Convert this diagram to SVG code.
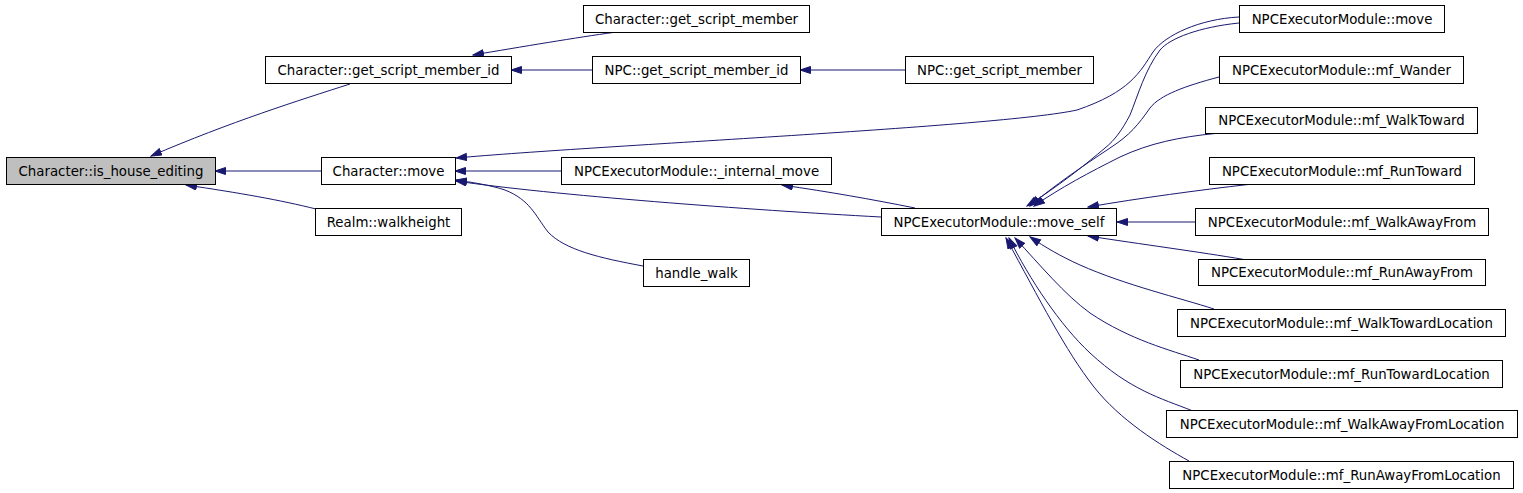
<svg xmlns="http://www.w3.org/2000/svg" width="1523" height="493" viewBox="0 0 1523 493">
<style>
.n rect{fill:#ffffff;stroke:#000000;stroke-width:1}
.n.h rect{fill:#bfbfbf}
.n text{font-family:"DejaVu Sans","Liberation Sans",sans-serif;font-size:13.33px;fill:#000000;text-anchor:middle}
.e path{fill:none;stroke:#191970;stroke-width:1;marker-end:url(#a)}
</style>
<defs>
<marker id="a" markerWidth="12" markerHeight="9" refX="11" refY="4" orient="auto" markerUnits="userSpaceOnUse">
<path d="M0.5,0.5 L11,4 L0.5,7.5 z" fill="#191970" stroke="#191970" stroke-width="1"/>
</marker>
</defs>
<rect width="1523" height="493" fill="#ffffff"/>
<g class="e" id="edges">
<path d="M350,84 C300,100 230,122 151,156"/>
<path d="M321,171 L215,171"/>
<path d="M316,209 C280,200 240,193 186,185"/>
<path d="M613,32.5 C580,37 520,47 473,55"/>
<path d="M592,70 L511,70"/>
<path d="M905,70 L800,70"/>
<path d="M1239,17 C1200,19 1165,35 1153,52 C1140,72 1130,92 1077,110 C1000,127 600,145 456,158"/>
<path d="M1239,23 C1200,27 1170,38 1160,50 C1145,70 1138,95 1130,115 C1122,130 1115,140 1105,148 C1085,165 1060,185 1027,206"/>
<path d="M1219,77 C1185,86 1160,95 1150,108 C1138,125 1130,135 1110,148 C1080,168 1055,185 1030,206"/>
<path d="M1215,133.5 C1180,137 1150,143 1120,157 C1090,172 1060,188 1034,206"/>
<path d="M1248,184.5 C1200,190 1140,198 1088,207"/>
<path d="M1195,222 L1117,222"/>
<path d="M1244,259.5 C1200,252 1140,244 1088,236"/>
<path d="M1214,309 C1180,298 1125,285 1080,265 C1060,256 1045,247 1030,237"/>
<path d="M1199,360 C1170,350 1130,340 1090,313 C1065,295 1040,265 1015,238"/>
<path d="M1193,411 C1160,398 1130,390 1090,353 C1060,325 1030,280 1009,238"/>
<path d="M1189,461 C1160,445 1120,420 1094,387 C1065,350 1040,300 1006,238"/>
<path d="M915,208 C870,199 830,192 782,185"/>
<path d="M881,217 C750,210 550,195 456,181"/>
<path d="M643,266 C600,258 565,250 548,232 C535,215 530,200 505,190 C490,185 470,182 456,180"/>
<path d="M561,171 L455,171"/>
</g>
<g class="n h" id="n_is_house_editing"><rect x="6.5" y="157.5" width="209" height="27"/><text x="111" y="176">Character::is_house_editing</text></g>
<g class="n" id="n_char_gsmi"><rect x="265.5" y="56.5" width="246" height="27"/><text x="388.5" y="75">Character::get_script_member_id</text></g>
<g class="n" id="n_char_gsm"><rect x="583.5" y="5.5" width="226" height="27"/><text x="696.5" y="24">Character::get_script_member</text></g>
<g class="n" id="n_npc_gsmi"><rect x="592.5" y="56.5" width="208" height="27"/><text x="696.5" y="75">NPC::get_script_member_id</text></g>
<g class="n" id="n_npc_gsm"><rect x="905.5" y="56.5" width="188" height="27"/><text x="999.5" y="75">NPC::get_script_member</text></g>
<g class="n" id="n_char_move"><rect x="321.5" y="157.5" width="134" height="27"/><text x="388.5" y="176">Character::move</text></g>
<g class="n" id="n_walkheight"><rect x="315.5" y="208.5" width="146" height="27"/><text x="388.5" y="227">Realm::walkheight</text></g>
<g class="n" id="n_internal_move"><rect x="561.5" y="157.5" width="270" height="27"/><text x="696.5" y="176">NPCExecutorModule::_internal_move</text></g>
<g class="n" id="n_handle_walk"><rect x="643.5" y="259.5" width="106" height="27"/><text x="696.5" y="278">handle_walk</text></g>
<g class="n" id="n_move_self"><rect x="881.5" y="208.5" width="235" height="27"/><text x="999" y="227">NPCExecutorModule::move_self</text></g>
<g class="n" id="n_npc_move"><rect x="1239.5" y="5.5" width="205" height="27"/><text x="1342" y="24">NPCExecutorModule::move</text></g>
<g class="n" id="n_wander"><rect x="1219.5" y="56.5" width="244" height="27"/><text x="1341.5" y="75">NPCExecutorModule::mf_Wander</text></g>
<g class="n" id="n_walktoward"><rect x="1205.5" y="107.5" width="272" height="26"/><text x="1341.5" y="125">NPCExecutorModule::mf_WalkToward</text></g>
<g class="n" id="n_runtoward"><rect x="1209.5" y="157.5" width="265" height="27"/><text x="1342" y="176">NPCExecutorModule::mf_RunToward</text></g>
<g class="n" id="n_walkawayfrom"><rect x="1195.5" y="208.5" width="293" height="27"/><text x="1342" y="227">NPCExecutorModule::mf_WalkAwayFrom</text></g>
<g class="n" id="n_runawayfrom"><rect x="1198.5" y="259.5" width="287" height="26"/><text x="1342" y="277">NPCExecutorModule::mf_RunAwayFrom</text></g>
<g class="n" id="n_walktowardloc"><rect x="1177.5" y="309.5" width="328" height="27"/><text x="1341.5" y="328">NPCExecutorModule::mf_WalkTowardLocation</text></g>
<g class="n" id="n_runtowardloc"><rect x="1180.5" y="360.5" width="322" height="27"/><text x="1341.5" y="379">NPCExecutorModule::mf_RunTowardLocation</text></g>
<g class="n" id="n_walkawayfromloc"><rect x="1166.5" y="410.5" width="351" height="27"/><text x="1342" y="429">NPCExecutorModule::mf_WalkAwayFromLocation</text></g>
<g class="n" id="n_runawayfromloc"><rect x="1169.5" y="461.5" width="344" height="27"/><text x="1341.5" y="480">NPCExecutorModule::mf_RunAwayFromLocation</text></g>
</svg>
